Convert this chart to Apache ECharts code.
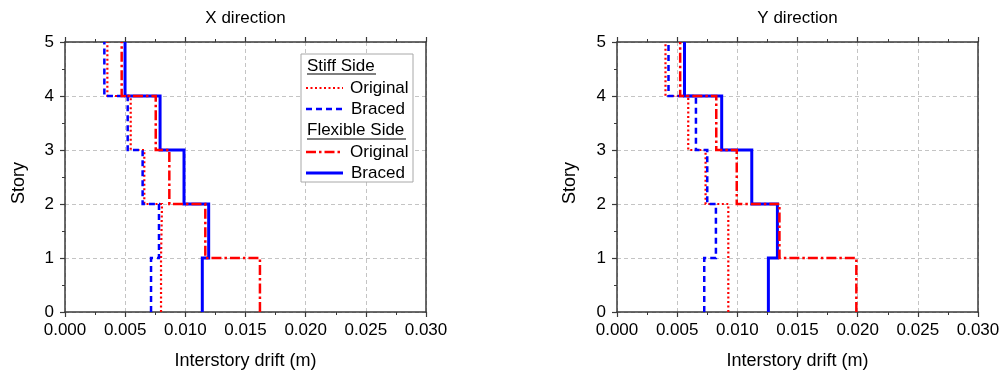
<!DOCTYPE html>
<html>
<head>
<meta charset="utf-8">
<script src="https://cdn.jsdelivr.net/npm/echarts@6/dist/echarts.min.js"></script>
<style>html,body{margin:0;padding:0;background:#fff;}#c{width:1005px;height:372px;}</style>
</head>
<body>
<div id="c"></div>
<script>
// Story levels
const storyLevels = [0, 1, 2, 3, 4, 5];
const xTicks = ['0.000','0.005','0.010','0.015','0.020','0.025','0.030'];

// X direction: drift per story (story 1..5)
const xStiffOriginal = [0.00798, 0.00806, 0.00659, 0.00546, 0.00352];
const xStiffBraced   = [0.00715, 0.00781, 0.00645, 0.00521, 0.00327];
const xFlexOriginal  = [0.0162, 0.01166, 0.00867, 0.00754, 0.00471];
const xFlexBraced    = [0.01141, 0.01194, 0.00989, 0.0079, 0.00499];

// Y direction: drift per story (story 1..5)
const yStiffOriginal = [0.00925, 0.00925, 0.00736, 0.00592, 0.00403];
const yStiffBraced   = [0.00725, 0.00822, 0.0075, 0.00656, 0.00428];
const yFlexOriginal  = [0.01989, 0.0135, 0.00995, 0.00825, 0.00525];
const yFlexBraced    = [0.01258, 0.01333, 0.0112, 0.0087, 0.00561];

function steps(vals) {
  const pts = [];
  for (let i = 0; i < vals.length; i++) {
    pts.push([vals[i], storyLevels[i]]);
    pts.push([vals[i], storyLevels[i + 1]]);
  }
  return pts;
}

const FONT = '"Liberation Sans", Arial, sans-serif';
const AX = '#3a3a3a';

const styles = {
  stiffOrig: {color: '#ff0000', width: 2.2, type: [2, 2.5]},
  stiffBraced: {color: '#0000ff', width: 2.5, type: [6, 4]},
  flexOrig: {color: '#ff0000', width: 2.5, type: [10, 3, 2.5, 3]},
  flexBraced: {color: '#0000ff', width: 3, type: 'solid'}
};

function bottomX(gi) {
  return {
    type: 'value', gridIndex: gi, position: 'bottom', min: 0, max: 0.03, interval: 0.005,
    name: 'Interstory drift (m)', nameLocation: 'middle', nameGap: 40,
    nameTextStyle: {fontFamily: FONT, fontSize: 18, color: '#000'},
    axisLine: {show: true, onZero: false, lineStyle: {color: AX, width: 1.5}},
    axisTick: {show: true, length: 5, lineStyle: {color: AX, width: 1.2}},
    minorTick: {show: true, splitNumber: 2, length: 3, lineStyle: {color: AX, width: 1}},
    axisLabel: {fontFamily: FONT, fontSize: 17, color: '#000', margin: 10,
      formatter: v => xTicks[Math.round(v / 0.005)]},
    splitLine: {show: true, lineStyle: {color: '#c4c4c4', width: 1, type: [4, 3]}}
  };
}
function topX(gi) {
  return {
    type: 'value', gridIndex: gi, position: 'top', min: 0, max: 0.03, interval: 0.005,
    axisLine: {show: true, onZero: false, lineStyle: {color: AX, width: 1.5}},
    axisTick: {show: true, length: 5, lineStyle: {color: AX, width: 1.2}},
    minorTick: {show: true, splitNumber: 2, length: 3, lineStyle: {color: AX, width: 1}},
    axisLabel: {show: false}, splitLine: {show: false}
  };
}
function leftY(gi) {
  return {
    type: 'value', gridIndex: gi, position: 'left', min: 0, max: 5, interval: 1,
    axisLine: {show: true, onZero: false, lineStyle: {color: AX, width: 1.5}},
    axisTick: {show: true, length: 5, lineStyle: {color: AX, width: 1.2}},
    minorTick: {show: true, splitNumber: 2, length: 3, lineStyle: {color: AX, width: 1}},
    axisLabel: {fontFamily: FONT, fontSize: 17, color: '#000', margin: 11},
    splitLine: {show: true, lineStyle: {color: '#c4c4c4', width: 1, type: [4, 3]}}
  };
}
function rightY(gi) {
  return {
    type: 'value', gridIndex: gi, position: 'right', min: 0, max: 5, interval: 1,
    axisLine: {show: true, onZero: false, lineStyle: {color: AX, width: 1.5}},
    axisTick: {show: false}, axisLabel: {show: false}, splitLine: {show: false}
  };
}
function ser(name, vals, st, xi, yi) {
  return {
    name: name, type: 'line', xAxisIndex: xi, yAxisIndex: yi, data: steps(vals),
    symbol: 'none', silent: true, animation: false,
    lineStyle: {color: st.color, width: st.width, type: st.type, cap: 'butt', join: 'miter'},
    z: st.type === 'solid' ? 3 : 4
  };
}

function legendLine(y, st) {
  return {type: 'line', z: 101, shape: {x1: 306, y1: y, x2: 343, y2: y},
    style: {stroke: st.color, lineWidth: st.width, lineDash: st.type === 'solid' ? null : st.type}};
}
function legendText(x, y, t) {
  return {type: 'text', z: 101, x: x, y: y,
    style: {text: t, fontFamily: FONT, fontSize: 17, fill: '#000', textVerticalAlign: 'middle', textAlign: 'left'}};
}
function uline(x1, x2, y) {
  return {type: 'line', z: 101, shape: {x1: x1, y1: y, x2: x2, y2: y}, style: {stroke: '#000', lineWidth: 1.2}};
}
function storyName(x, y) {
  return {type: 'text', x: x, y: y, rotation: Math.PI / 2,
    style: {text: 'Story', fontFamily: FONT, fontSize: 18, fill: '#000', textAlign: 'center', textVerticalAlign: 'middle'}};
}

const chart = echarts.init(document.getElementById('c'), null, {renderer: 'canvas'});
chart.setOption({
  animation: false,
  backgroundColor: '#fff',
  grid: [
    {left: 65, right: 579, top: 42, bottom: 60, containLabel: false, outerBoundsMode: 'none'},
    {left: 617, right: 27, top: 42, bottom: 60, containLabel: false, outerBoundsMode: 'none'}
  ],
  xAxis: [bottomX(0), topX(0), bottomX(1), topX(1)],
  yAxis: [leftY(0), rightY(0), leftY(1), rightY(1)],
  series: [
    ser('Stiff Side Original', xStiffOriginal, styles.stiffOrig, 0, 0),
    ser('Stiff Side Braced', xStiffBraced, styles.stiffBraced, 0, 0),
    ser('Flexible Side Original', xFlexOriginal, styles.flexOrig, 0, 0),
    ser('Flexible Side Braced', xFlexBraced, styles.flexBraced, 0, 0),
    ser('Stiff Side Original', yStiffOriginal, styles.stiffOrig, 2, 2),
    ser('Stiff Side Braced', yStiffBraced, styles.stiffBraced, 2, 2),
    ser('Flexible Side Original', yFlexOriginal, styles.flexOrig, 2, 2),
    ser('Flexible Side Braced', yFlexBraced, styles.flexBraced, 2, 2)
  ],
  graphic: [
    {type: 'text', x: 245.5, y: 18, style: {text: 'X direction', fontFamily: FONT, fontSize: 17, fill: '#000', textAlign: 'center', textVerticalAlign: 'middle'}},
    {type: 'text', x: 797.5, y: 18, style: {text: 'Y direction', fontFamily: FONT, fontSize: 17, fill: '#000', textAlign: 'center', textVerticalAlign: 'middle'}},
    storyName(19, 183),
    storyName(570, 183),
    {type: 'rect', z: 100, shape: {x: 301, y: 54, width: 112, height: 128}, style: {fill: '#fff', stroke: '#a8a8a8', lineWidth: 1}},
    legendText(307, 66, 'Stiff Side'),
    uline(307, 376, 74),
    legendLine(88, styles.stiffOrig), legendText(350, 88, 'Original'),
    legendLine(109, styles.stiffBraced), legendText(351, 109, 'Braced'),
    legendText(307, 130, 'Flexible Side'),
    uline(307, 406, 139),
    legendLine(152, styles.flexOrig), legendText(350, 152, 'Original'),
    legendLine(173, styles.flexBraced), legendText(351, 173, 'Braced')
  ]
});
</script>
</body>
</html>
